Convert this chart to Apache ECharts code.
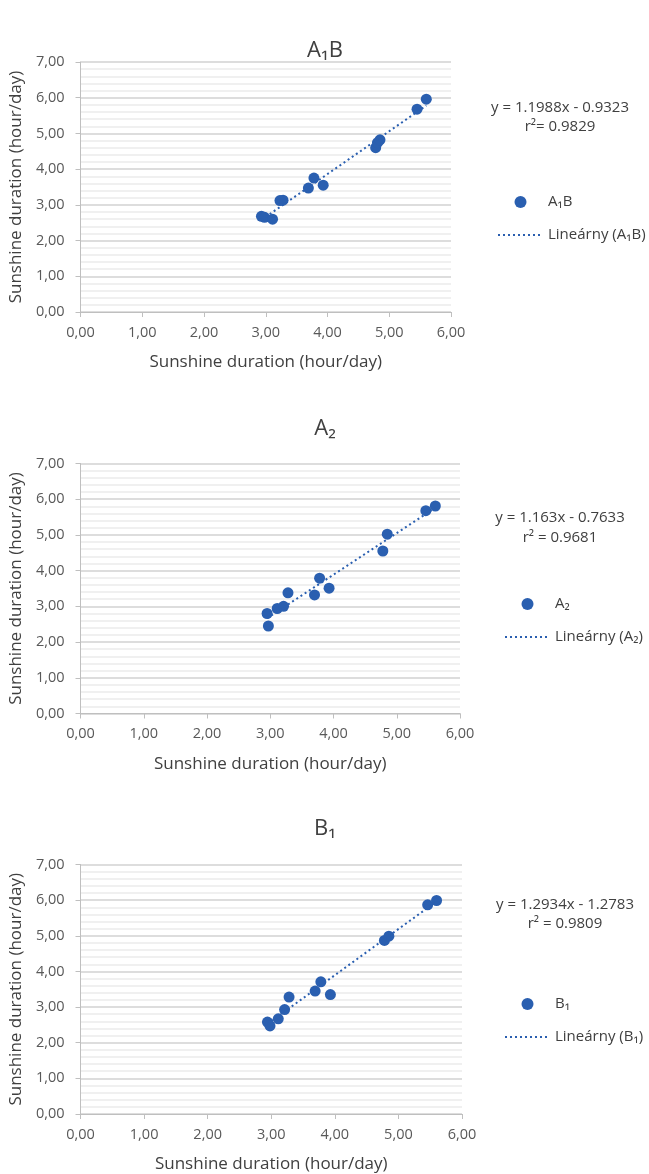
<!DOCTYPE html>
<html>
<head>
<meta charset="utf-8">
<script src="https://cdn.jsdelivr.net/npm/echarts@6/dist/echarts.min.js"></script>
<style>
  html, body { margin: 0; padding: 0; background: #fff; }
  #main { width: 649px; height: 1174px; }
</style>
</head>
<body>
<div id="main"></div>
<script>
// sunshine duration (x) vs. sunshine duration (y), one pair per panel
const xA1B = [2.93, 2.98, 3.11, 3.23, 3.28, 3.69, 3.78, 3.93, 4.78, 4.81, 4.85, 5.45, 5.60];
const yA1B = [2.68, 2.65, 2.60, 3.12, 3.13, 3.47, 3.75, 3.55, 4.60, 4.74, 4.82, 5.68, 5.96];
const xA2 = [2.95, 2.97, 3.11, 3.21, 3.28, 3.70, 3.78, 3.93, 4.78, 4.85, 5.46, 5.61];
const yA2 = [2.80, 2.45, 2.94, 3.00, 3.38, 3.32, 3.79, 3.51, 4.55, 5.02, 5.68, 5.81];
const xB1 = [2.94, 2.98, 3.11, 3.21, 3.28, 3.69, 3.78, 3.93, 4.78, 4.85, 5.46, 5.60];
const yB1 = [2.58, 2.47, 2.67, 2.93, 3.28, 3.45, 3.71, 3.35, 4.87, 4.99, 5.87, 5.99];

const panels = ['A₁B', 'A₂', 'B₁'];
const slopes = [1.1988, 1.163, 1.2934];
const intercepts = [-0.9323, -0.7633, -1.2783];
const equations = [
  'y = 1.1988x - 0.9323\nr²= 0.9829',
  'y = 1.163x - 0.7633\nr² = 0.9681',
  'y = 1.2934x - 1.2783\nr² = 0.9809'
];
const axisName = 'Sunshine duration (hour/day)';

const xs = [xA1B, xA2, xB1];
const ys = [yA1B, yA2, yB1];

// layout per panel
const grids = [
  { left: 80, top: 62, width: 371, height: 250 },
  { left: 80, top: 463.5, width: 380, height: 250 },
  { left: 80, top: 864.5, width: 382, height: 250 }
];
const titleTops = [40, 418, 818];
const eqTops = [98.5, 508, 895.5];
const eqLineH = [19, 20, 19];
const eqCenters = [560, 560, 565];
const legendPos = [[497, 194], [504, 596], [504, 996]];

const font = '"Open Sans", "Noto Sans", sans-serif';
const blue = '#2a5fb0';
const fmt = v => v.toFixed(2).replace('.', ',');

const chart = echarts.init(document.getElementById('main'));

let titles = [], xAxes = [], yAxes = [], series = [], legends = [];
panels.forEach(function (p, i) {
  titles.push({
    text: p, left: 325, top: titleTops[i], textAlign: 'center', padding: 0,
    textStyle: { fontFamily: font, fontSize: 22, fontWeight: 'normal', color: '#404040' }
  });
  titles.push({
    text: equations[i], left: eqCenters[i], top: eqTops[i], textAlign: 'center', padding: 0,
    textStyle: { fontFamily: font, fontSize: 15, fontWeight: 'normal', color: '#404040', lineHeight: eqLineH[i], align: 'center' }
  });
  xAxes.push({
    gridIndex: i, type: 'value', min: 0, max: 6, interval: 1,
    name: axisName, nameLocation: 'middle', nameGap: 42,
    nameTextStyle: { fontFamily: font, fontSize: 17, color: '#404040' },
    axisLine: { show: true, onZero: false, lineStyle: { color: '#bfbfbf' } },
    axisTick: { show: true, length: 5, lineStyle: { color: '#bfbfbf' } },
    axisLabel: { fontFamily: font, fontSize: 14.5, color: '#595959', margin: 13, formatter: fmt },
    splitLine: { show: false }
  });
  yAxes.push({
    gridIndex: i, type: 'value', min: 0, max: 7, interval: 1,
    name: axisName, nameLocation: 'middle', nameGap: 47,
    nameTextStyle: { fontFamily: font, fontSize: 17, color: '#404040' },
    axisLine: { show: true, onZero: false, lineStyle: { color: '#bfbfbf' } },
    axisTick: { show: true, length: 5, lineStyle: { color: '#bfbfbf' } },
    axisLabel: { fontFamily: font, fontSize: 14.5, color: '#595959', margin: 16, formatter: fmt },
    splitLine: { show: true, lineStyle: { color: '#d2d2d2', width: 1.5 } },
    minorTick: { show: false, splitNumber: 5 },
    minorSplitLine: { show: true, lineStyle: { color: '#ececec', width: 1.5 } }
  });
  const pts = xs[i].map((x, k) => [x, ys[i][k]]);
  const x0 = Math.min.apply(null, xs[i]);
  const x1 = Math.max.apply(null, xs[i]);
  series.push({
    name: p, type: 'scatter', xAxisIndex: i, yAxisIndex: i,
    symbol: 'circle', symbolSize: 11, z: 3,
    itemStyle: { color: blue, opacity: 1 },
    data: pts
  });
  series.push({
    name: 'Lineárny (' + p + ')', type: 'line', xAxisIndex: i, yAxisIndex: i,
    symbol: 'none', z: 4, silent: true,
    lineStyle: { color: blue, width: 2, type: [2, 3] },
    itemStyle: { color: blue, opacity: 0 },
    data: [[x0, slopes[i] * x0 + intercepts[i]], [x1, slopes[i] * x1 + intercepts[i]]]
  });
  legends.push({
    left: legendPos[i][0], top: legendPos[i][1], orient: 'vertical', padding: 0,
    itemWidth: 45, itemHeight: 12, itemGap: 17,
    textStyle: { fontFamily: font, fontSize: 15, color: '#404040', lineHeight: 16 },
    data: [p, { name: 'Lineárny (' + p + ')', itemStyle: { opacity: 0 } }]
  });
});

chart.setOption({
  animation: false,
  title: titles,
  grid: grids,
  xAxis: xAxes,
  yAxis: yAxes,
  legend: legends,
  series: series
});
</script>
</body>
</html>
